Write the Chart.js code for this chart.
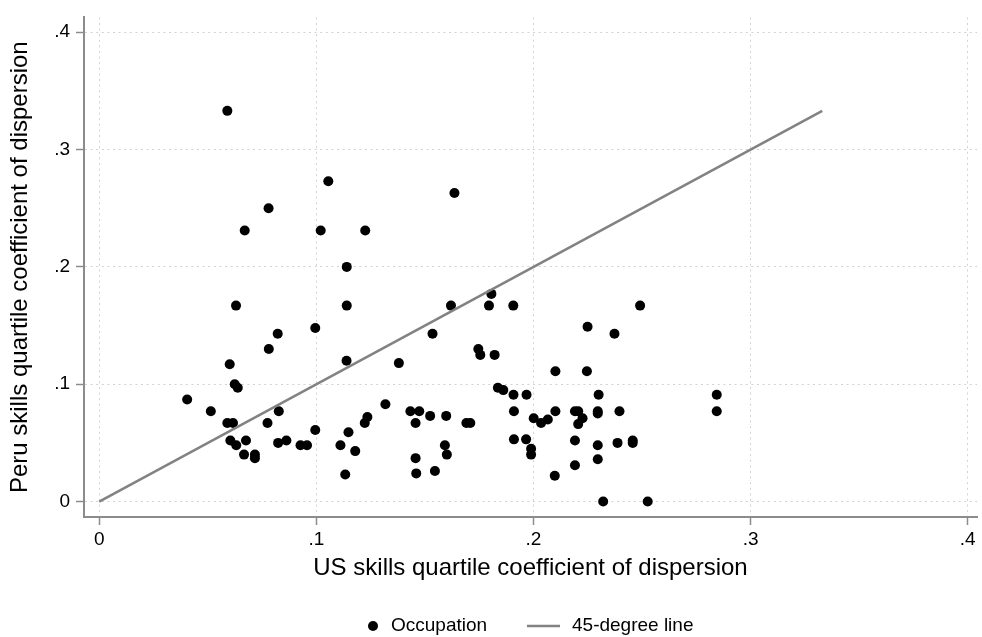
<!DOCTYPE html>
<html>
<head>
<meta charset="utf-8">
<script src="https://cdn.jsdelivr.net/npm/chart.js@4/dist/chart.umd.min.js"></script>
<style>
  html, body { margin: 0; padding: 0; background: #ffffff; }
  #wrap { width: 982px; height: 637px; position: relative; }
</style>
</head>
<body>
<div id="wrap"><canvas id="chart" width="982" height="637"></canvas></div>
<script>
// Quartile coefficient of dispersion of skills, per occupation
const usDispersion = [
  0.059, 0.067, 0.078, 0.102, 0.1055, 0.1225, 0.1636, 0.114, 0.114, 0.0995,
  0.1535, 0.162, 0.1806, 0.1795, 0.1907, 0.1746, 0.063, 0.0822, 0.0781, 0.0601,
  0.0624, 0.0638, 0.0405, 0.0514, 0.059, 0.0616, 0.0827, 0.0775, 0.0995, 0.0604,
  0.0631, 0.0676, 0.0667, 0.0717, 0.0717, 0.0824, 0.0862, 0.0927, 0.0957, 0.1139,
  0.138, 0.1755, 0.1821, 0.1836, 0.1861, 0.1908, 0.1968, 0.191, 0.2001, 0.2035,
  0.191, 0.1966, 0.1989, 0.1989, 0.1318, 0.1433, 0.1474, 0.1457, 0.1524, 0.1598,
  0.1691, 0.1709, 0.1235, 0.1223, 0.1148, 0.1111, 0.1179, 0.1133, 0.1457, 0.146,
  0.1546, 0.1592, 0.1601, 0.2491, 0.2249, 0.2373, 0.2101, 0.2246, 0.2300, 0.2844,
  0.2844, 0.2101, 0.2191, 0.2206, 0.2226, 0.2206, 0.2296, 0.2296, 0.2396, 0.2066,
  0.2191, 0.2296, 0.2387, 0.2457, 0.2457, 0.2296, 0.2191, 0.2098, 0.2321, 0.2526
];
const peruDispersion = [
  0.333, 0.231, 0.250, 0.231, 0.273, 0.231, 0.263, 0.200, 0.167, 0.148,
  0.143, 0.167, 0.177, 0.167, 0.167, 0.130, 0.167, 0.143, 0.130, 0.117,
  0.100, 0.097, 0.087, 0.077, 0.067, 0.067, 0.077, 0.067, 0.061, 0.052,
  0.048, 0.052, 0.040, 0.040, 0.037, 0.050, 0.052, 0.048, 0.048, 0.120,
  0.118, 0.125, 0.125, 0.097, 0.095, 0.091, 0.091, 0.077, 0.071, 0.067,
  0.053, 0.053, 0.045, 0.040, 0.083, 0.077, 0.077, 0.067, 0.073, 0.073,
  0.067, 0.067, 0.072, 0.067, 0.059, 0.048, 0.043, 0.023, 0.037, 0.024,
  0.026, 0.048, 0.040, 0.167, 0.149, 0.143, 0.111, 0.111, 0.091, 0.091,
  0.077, 0.077, 0.077, 0.077, 0.071, 0.066, 0.077, 0.075, 0.077, 0.070,
  0.052, 0.048, 0.050, 0.052, 0.050, 0.036, 0.031, 0.022, 0.000, 0.000
];

// Reference line y = x over the range of the data
const diagonalEnds = [0, 0.333];

const tickValues = [0, 0.1, 0.2, 0.3, 0.4];
const tickLabels = ['0', '.1', '.2', '.3', '.4'];
const seriesNames = ['Occupation', '45-degree line'];
const xAxisTitle = 'US skills quartile coefficient of dispersion';
const yAxisTitle = 'Peru skills quartile coefficient of dispersion';

const FONT = '"Liberation Sans", Arial, Helvetica, sans-serif';
const AXIS_GREY = '#8c8c8c';
const LINE_GREY = '#828282';
const GRID_GREY = '#d2d2d2';

Chart.defaults.font.family = FONT;
Chart.defaults.color = '#000000';

const occupationPoints = usDispersion.map((x, i) => ({ x: x, y: peruDispersion[i] }));
const diagonalPoints = diagonalEnds.map(v => ({ x: v, y: v }));

const tickLabelFor = (value) => {
  const i = tickValues.findIndex(t => Math.abs(t - value) < 1e-9);
  return i >= 0 ? tickLabels[i] : '';
};

// Key drawn centred under the plot, marker + text for each series
const keyBelow = {
  id: 'keyBelow',
  afterDraw(chart) {
    const ctx = chart.ctx;
    const y = 626;
    ctx.save();
    ctx.font = '19px ' + FONT;
    ctx.textBaseline = 'middle';
    ctx.textAlign = 'left';
    ctx.fillStyle = '#000000';

    // scatter marker
    ctx.beginPath();
    ctx.arc(373, y, 5, 0, Math.PI * 2);
    ctx.fill();
    ctx.fillText(chart.data.datasets[0].label, 391, y);

    // line marker
    ctx.strokeStyle = chart.data.datasets[1].borderColor;
    ctx.lineWidth = 2.5;
    ctx.beginPath();
    ctx.moveTo(527, y);
    ctx.lineTo(560, y);
    ctx.stroke();
    ctx.fillStyle = '#000000';
    ctx.fillText(chart.data.datasets[1].label, 572, y);
    ctx.restore();
  }
};

const gridOptions = {
  color: GRID_GREY,
  lineWidth: 1,
  drawTicks: true,
  tickLength: 8,
  tickColor: AXIS_GREY,
  tickWidth: 1.5
};
const borderOptions = {
  display: true,
  color: AXIS_GREY,
  width: 2,
  dash: [2, 3.6]
};

new Chart(document.getElementById('chart'), {
  type: 'scatter',
  data: {
    datasets: [
      {
        label: seriesNames[0],
        data: occupationPoints,
        backgroundColor: '#000000',
        borderColor: '#000000',
        borderWidth: 0,
        pointRadius: 5,
        pointHoverRadius: 5,
        order: 1
      },
      {
        label: seriesNames[1],
        data: diagonalPoints,
        showLine: true,
        borderColor: LINE_GREY,
        borderWidth: 2.5,
        pointRadius: 0,
        pointHoverRadius: 0,
        fill: false,
        order: 0
      }
    ]
  },
  options: {
    responsive: false,
    animation: false,
    devicePixelRatio: 1,
    layout: { padding: { top: 13, right: 0, bottom: 0, left: 0 } },
    plugins: {
      legend: { display: false },
      tooltip: { enabled: false }
    },
    scales: {
      x: {
        type: 'linear',
        position: 'bottom',
        min: -0.00701,
        max: 0.40426,
        afterBuildTicks: (scale) => { scale.ticks = tickValues.map(v => ({ value: v })); },
        afterFit: (scale) => { scale.height = 120; },
        ticks: {
          autoSkip: false,
          maxRotation: 0,
          padding: 3,
          font: { size: 19 },
          color: '#000000',
          callback: (value) => tickLabelFor(value)
        },
        grid: gridOptions,
        border: borderOptions,
        title: {
          display: true,
          text: xAxisTitle,
          font: { size: 24 },
          color: '#000000',
          padding: { top: 0, bottom: 54 }
        }
      },
      y: {
        type: 'linear',
        position: 'left',
        min: -0.013173,
        max: 0.41267,
        afterBuildTicks: (scale) => { scale.ticks = tickValues.map(v => ({ value: v })); },
        afterFit: (scale) => { scale.width = 84; },
        ticks: {
          autoSkip: false,
          padding: 6,
          font: { size: 19 },
          color: '#000000',
          callback: (value) => tickLabelFor(value)
        },
        grid: gridOptions,
        border: borderOptions,
        title: {
          display: true,
          text: yAxisTitle,
          font: { size: 24 },
          color: '#000000',
          padding: { top: 5.6, bottom: 0 }
        }
      }
    }
  },
  plugins: [keyBelow]
});
</script>
</body>
</html>
